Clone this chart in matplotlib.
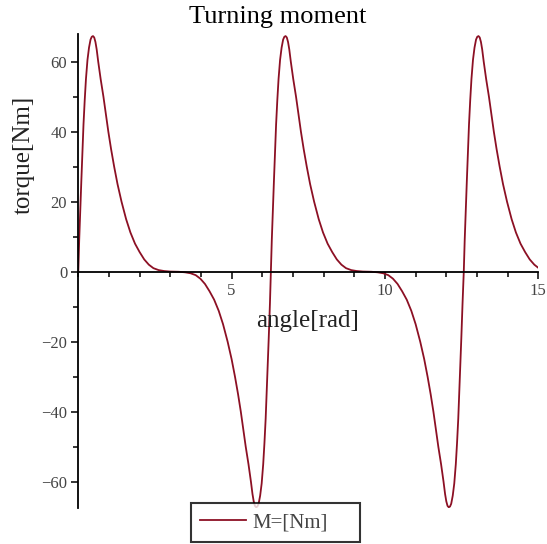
import matplotlib
matplotlib.use('Agg')
import matplotlib.pyplot as plt
from matplotlib.ticker import MultipleLocator

# angle [rad] and torque [Nm]
angle = [
    0.00, 0.03, 0.07, 0.10, 0.13, 0.17, 0.21, 0.25, 0.30, 0.35, 0.40, 0.44, 0.48, 0.52, 0.56, 0.60,
    0.65, 0.73, 0.82, 0.90, 0.98, 1.07, 1.17, 1.28, 1.41, 1.56, 1.70, 1.85, 2.00, 2.15, 2.30, 2.45,
    2.62, 2.80, 3.00, 3.14,
    3.28, 3.48, 3.66, 3.83, 3.98, 4.13, 4.28, 4.43, 4.58, 4.72, 4.87, 5.00, 5.11, 5.21, 5.30, 5.38,
    5.46, 5.55, 5.63, 5.68, 5.72, 5.76, 5.80, 5.84, 5.88, 5.93, 5.98, 6.03, 6.07, 6.11, 6.15, 6.18,
    6.21, 6.25, 6.28,
    6.31, 6.35, 6.38, 6.41, 6.45, 6.49, 6.53, 6.58, 6.63, 6.68, 6.72, 6.76, 6.80, 6.84, 6.88, 6.93,
    7.01, 7.10, 7.18, 7.26, 7.35, 7.45, 7.56, 7.69, 7.84, 7.98, 8.13, 8.28, 8.43, 8.58, 8.73, 8.90,
    9.08, 9.28, 9.42,
    9.56, 9.76, 9.94, 10.11, 10.26, 10.41, 10.56, 10.71, 10.86, 11.00, 11.15, 11.28, 11.39, 11.49,
    11.58, 11.66, 11.74, 11.83, 11.91, 11.96, 12.00, 12.04, 12.08, 12.12, 12.16, 12.21, 12.26, 12.31,
    12.35, 12.39, 12.43, 12.46, 12.49, 12.53, 12.57,
    12.60, 12.64, 12.67, 12.70, 12.74, 12.78, 12.82, 12.87, 12.92, 12.97, 13.01, 13.05, 13.09, 13.13,
    13.17, 13.22, 13.30, 13.39, 13.47, 13.55, 13.64, 13.74, 13.85, 13.98, 14.13, 14.27, 14.42, 14.57,
    14.72, 14.87, 15.00,
]
torque = [
    0, 9, 19, 26, 33, 42, 49, 55, 60.5, 64, 66.3, 67.1, 67.3, 66.9, 65.6, 63.5,
    60, 55, 50, 45, 40, 35, 30, 25, 20, 15, 11.2, 8.0, 5.6, 3.5, 2.0, 1.0,
    0.45, 0.18, 0.03, 0,
    -0.03, -0.18, -0.45, -1.0, -2.0, -3.5, -5.6, -8.0, -11.2, -15, -20, -25, -30, -35, -40, -45,
    -50, -55, -60, -63.5, -65.6, -66.9, -67.3, -67.1, -66.3, -64, -60.5, -55, -49, -42, -33, -26,
    -19, -9, 0,
    9, 19, 26, 33, 42, 49, 55, 60.5, 64, 66.3, 67.1, 67.3, 66.9, 65.6, 63.5, 60,
    55, 50, 45, 40, 35, 30, 25, 20, 15, 11.2, 8.0, 5.6, 3.5, 2.0, 1.0, 0.45,
    0.18, 0.03, 0,
    -0.03, -0.18, -0.45, -1.0, -2.0, -3.5, -5.6, -8.0, -11.2, -15, -20, -25, -30, -35,
    -40, -45, -50, -55, -60, -63.5, -65.6, -66.9, -67.3, -67.1, -66.3, -64, -60.5, -55,
    -49, -42, -33, -26, -19, -9, 0,
    9, 19, 26, 33, 42, 49, 55, 60.5, 64, 66.3, 67.1, 67.3, 66.9, 65.6,
    63.5, 60, 55, 50, 45, 40, 35, 30, 25, 20, 15, 11.2, 8.0, 5.6,
    3.5, 2.0, 1.1,
]
x_major = [5, 10, 15]
y_major = [-60, -40, -20, 0, 20, 40, 60]

plt.rcParams['font.family'] = ['Liberation Serif', 'DejaVu Serif']

fig = plt.figure(figsize=(5.47, 5.44), dpi=100)
ax = fig.add_axes([0.1431, 0.0656, 0.841, 0.8713])

ax.plot(angle, torque, color='#8c1024', linewidth=1.3, label='M=[Nm]')
ax.set_xlim(0, 15)
ax.set_ylim(-67.6, 67.8)

ax.spines['top'].set_visible(False)
ax.spines['right'].set_visible(False)
ax.spines['left'].set_position(('data', 0))
ax.spines['bottom'].set_position(('data', 0))
ax.spines['left'].set_linewidth(1.3)
ax.spines['bottom'].set_linewidth(1.3)

ax.set_xticks(x_major)
ax.set_yticks(y_major)
ax.xaxis.set_minor_locator(MultipleLocator(1))
ax.yaxis.set_minor_locator(MultipleLocator(10))
ax.tick_params(axis='both', which='major', direction='out', length=5, width=1.1,
               labelsize=12, labelcolor='#444444', pad=3)
ax.tick_params(axis='both', which='minor', direction='out', length=3.5, width=1.1)

fig.text(0.508, 1 - 23 / 544, 'Turning moment', ha='center', va='baseline', fontsize=19)
fig.text(24 / 547, 1 - 155 / 544, 'torque[Nm]', ha='center', va='center', rotation=90,
         fontsize=18, color='#222222')
fig.text(308 / 547, 1 - 321 / 544, 'angle[rad]', ha='center', va='center',
         fontsize=18, color='#222222')

# legend box stretched like the reference (text left, empty space right)
leg = ax.legend(loc='lower left', mode='expand',
                bbox_to_anchor=(191 / 547, 2.5 / 544, 169 / 547, 37 / 544),
                bbox_transform=fig.transFigure,
                fontsize=15, frameon=True, fancybox=False, handlelength=2.2, handletextpad=0.3,
                borderpad=0.45, borderaxespad=0)
leg._legend_box.sep = 0
leg.get_frame().set_edgecolor('black')
leg.get_frame().set_linewidth(1.5)
for t in leg.get_texts():
    t.set_color('#444444')

plt.savefig('out.png', dpi=100)
plt.close()
